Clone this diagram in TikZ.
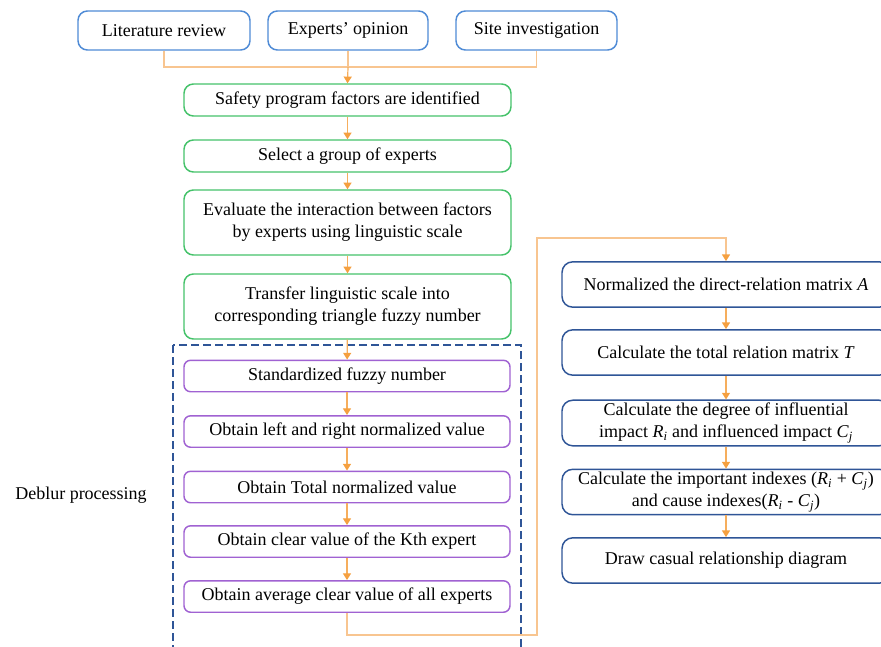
\documentclass[tikz,border=0pt]{standalone}
\usepackage{fontspec}
\setmainfont{Liberation Serif}
\usepackage{xcolor}
\usetikzlibrary{arrows.meta,positioning}
\definecolor{srcblue}{HTML}{4F8BD6}
\definecolor{stepgreen}{HTML}{45C26A}
\definecolor{fuzzpurple}{HTML}{A062D2}
\definecolor{dmblue}{HTML}{2F5597}
\definecolor{flowline}{HTML}{F8C590}
\definecolor{flowtip}{HTML}{F5A040}
\tikzset{
  basebox/.style={rounded corners=7pt,line width=1.1pt,fill=white,
                  align=center,inner sep=2pt,
                  font=\fontsize{13.5}{16.5}\selectfont},
  srcbox/.style={basebox,draw=srcblue,minimum height=29.25pt},
  greenbox/.style={basebox,draw=stepgreen,minimum width=245.25pt},
  purplebox/.style={basebox,draw=fuzzpurple,rounded corners=5pt,
                    minimum width=244.5pt,minimum height=23.6pt},
  dmbox/.style={basebox,draw=dmblue,rounded corners=8pt,
                minimum width=246pt,minimum height=34pt},
  flow/.style={line width=0.9pt,draw=flowtip!85,
               -{Triangle[length=5pt,width=6pt,color=flowtip]}},
  loopflow/.style={line width=0.9pt,draw=flowline,
               -{Triangle[length=5pt,width=6pt,color=flowtip]}},
  flowplain/.style={line width=0.9pt,draw=flowline},
  groupbox/.style={draw=dmblue,line width=1pt,
                   dash pattern=on 6pt off 3pt}
}
\begin{document}
\begin{tikzpicture}[x=0.75pt,y=-0.75pt]
  \useasboundingbox (0,0) rectangle (881,646);
  % sources
  \node[srcbox,minimum width=129pt] (lit) at (164,30.5) {Literature review};
  \node[srcbox,minimum width=120pt] (opin) at (348,30.5) {Experts’ opinion};
  \node[srcbox,minimum width=120.75pt] (site) at (536.5,30.5) {Site investigation};
  % green steps
  \node[greenbox,minimum height=24pt] (ident) at (347.5,100) {Safety program factors are identified};
  \node[greenbox,minimum height=24pt] (select) at (347.5,156) {Select a group of experts};
  \node[greenbox,minimum height=48.75pt] (evalint) at (347.5,222.5)
    {Evaluate the interaction between factors\\by experts using linguistic scale};
  \node[greenbox,minimum height=48.75pt] (transf) at (347.5,306.5)
    {Transfer linguistic scale into\\corresponding triangle fuzzy number};
  % deblur processing
  \draw[groupbox] (173,345) rectangle (521,670);
  \node[font=\fontsize{13.5}{16.5}\selectfont] (deblur) at (81,495) {Deblur processing};
  \node[purplebox] (stdf) at (347,376) {Standardized fuzzy number};
  \node[purplebox] (lrnorm) at (347,431.5) {Obtain left and right normalized value};
  \node[purplebox] (totnorm) at (347,487) {Obtain Total normalized value};
  \node[purplebox] (kth) at (347,541.5) {Obtain clear value of the Kth expert};
  \node[purplebox] (avg) at (347,596.5) {Obtain average clear value of all experts};
  % DEMATEL steps
  \node[dmbox] (norma) at (726,284.5) {Normalized the direct-relation matrix \textit{A}};
  \node[dmbox] (totrel) at (726,352.5) {Calculate the total relation matrix \textit{T}};
  \node[dmbox] (degree) at (726,423)
    {Calculate the degree of influential\\impact \textit{R}\textsubscript{\textit{i}} and influenced impact \textit{C}\textsubscript{\textit{j}}};
  \node[dmbox] (indexes) at (726,492)
    {Calculate the important indexes (\textit{R}\textsubscript{\textit{i}} + \textit{C}\textsubscript{\textit{j}})\\and cause indexes(\textit{R}\textsubscript{\textit{i}} - \textit{C}\textsubscript{\textit{j}})};
  \node[dmbox] (causal) at (726,560.5) {Draw casual relationship diagram};
  % connectors
  \coordinate (join) at (opin.south |- 0,67);
  \draw[flowplain] (lit.south) |- (join) -| (site.south);
  \draw[flowplain] (opin.south) -- (join);
  \draw[flow] (join) -- (ident.north);
  \draw[flow] (ident) -- (select);
  \draw[flow] (select) -- (evalint);
  \draw[flow] (evalint) -- (transf);
  \draw[flow] (transf) -- (stdf);
  \draw[flow] (stdf) -- (lrnorm);
  \draw[flow] (lrnorm) -- (totnorm);
  \draw[flow] (totnorm) -- (kth);
  \draw[flow] (kth) -- (avg);
  \coordinate (loopa) at (537,635);
  \coordinate (loopb) at (537,238);
  \draw[loopflow] (avg.south) |- (loopa) -- (loopb) -| (norma.north);
  \draw[flow] (norma) -- (totrel);
  \draw[flow] (totrel) -- (degree);
  \draw[flow] (degree) -- (indexes);
  \draw[flow] (indexes) -- (causal);
\end{tikzpicture}
\end{document}
